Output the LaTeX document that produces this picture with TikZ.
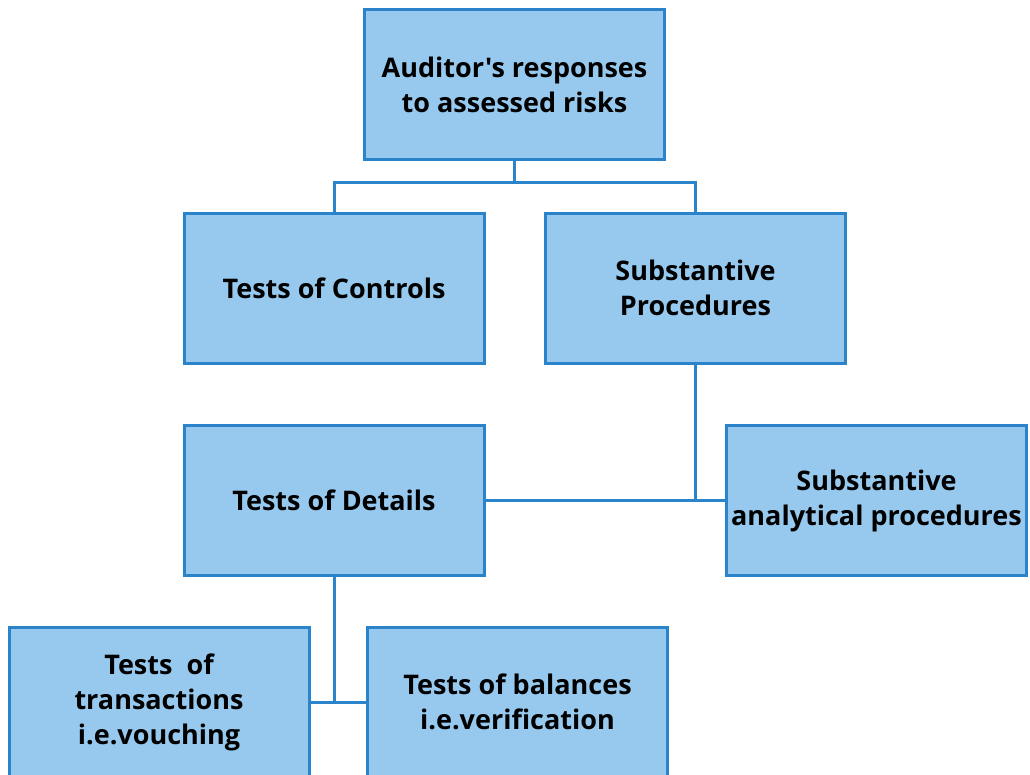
\documentclass[tikz,border=0pt]{standalone}
\usepackage{fontspec}
\setmainfont{Open Sans}[Ligatures=TeXOff]
\definecolor{boxfill}{HTML}{97C9EE}
\definecolor{boxline}{HTML}{2B83C9}
\begin{document}
\begin{tikzpicture}[x=1pt,y=-1pt,
  box/.style={draw=boxline,fill=boxfill,line width=3pt,minimum width=300pt,minimum height=150pt,
    inner sep=0pt,align=center,font=\fontsize{27}{35}\selectfont\bfseries},
  conn/.style={draw=boxline,line width=3pt}]
\useasboundingbox (0,0) rectangle (1030,774);
\clip (0,0) rectangle (1030,774);
\node[box] (top) at (514.5,84.5) {Auditor's responses\\to assessed risks};
\node[box] (tc) at (334,288) {Tests of Controls};
\node[box] (sp) at (695.5,288) {Substantive\\Procedures};
\node[box] (td) at (334,500.5) {Tests of Details};
\node[box] (sap) at (876.5,500.5) {Substantive\\analytical procedures};
\node[box] (tt) at (159,702) {Tests\ \ of\\transactions\\i.e.vouching};
\node[box] (tb) at (517.5,702) {Tests of balances\\i.e.verification};
\coordinate (j1) at (514.5,182);
\draw[conn] (top.south) -- (j1);
\draw[conn] (tc.north) |- (j1) -| (sp.north);
\draw[conn] (sp.south) -- (sp.south |- td.east);
\draw[conn] (td.east) -- (sap.west);
\draw[conn] (td.south) -- (td.south |- tt.east);
\draw[conn] (tt.east) -- (tb.west);
\end{tikzpicture}
\end{document}
